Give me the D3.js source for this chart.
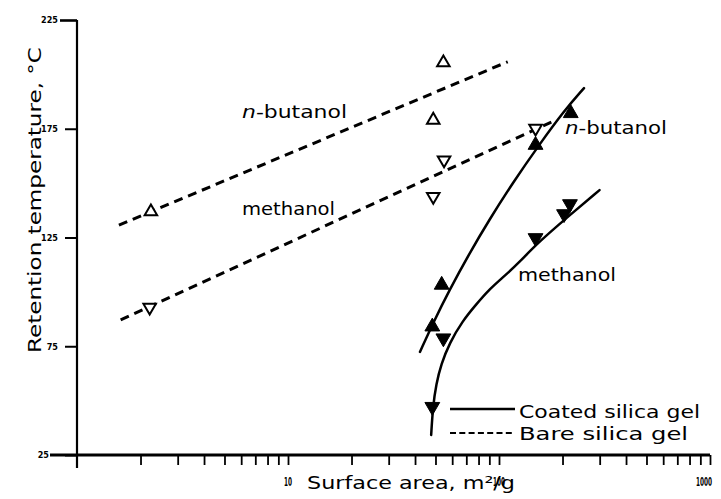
<!DOCTYPE html>
<html>
<head>
<meta charset="utf-8">
<script src="https://cdn.jsdelivr.net/npm/d3@7"></script>
<style>
  html, body { margin: 0; padding: 0; background: #fff; }
  svg { display: block; }
  text { font-family: "DejaVu Sans", sans-serif; fill: #000; }
</style>
</head>
<body>
<svg id="chart" width="721" height="499"></svg>
<script>
// Axis ticks
const tempTicks = [25, 75, 125, 175, 225];
const areaLabelTicks = [10, 100, 1000];

// Bare silica gel: measured points (surface area m²/g, retention temperature °C)
const bareButanolArea = [2.24, 48.8, 54.5];
const bareButanolTemp = [136.9, 179.0, 205.4];
const bareMethanolArea = [2.21, 48.8, 54.9, 149];
const bareMethanolTemp = [92.9, 143.8, 160.6, 175.2];

// Bare silica gel: straight trend lines (end points)
const bareButanolLineArea = [1.58, 110];
const bareButanolLineTemp = [130.7, 205.8];
const bareMethanolLineArea = [1.61, 178];
const bareMethanolLineTemp = [87.1, 178.2];

// Coated silica gel: measured points
const coatedButanolArea = [48.3, 53.5, 149, 218.8];
const coatedButanolTemp = [84.0, 103.2, 167.5, 182.1];
const coatedMethanolArea = [48.3, 54.5, 149, 203.3, 216.9];
const coatedMethanolTemp = [47.2, 78.7, 124.8, 135.8, 140.4];

// Coated silica gel: smoothed curves
const coatedButanolCurveArea = [42.2, 49.2, 57.9, 72.1, 89.7, 117.8, 154.7, 203.2, 252.9];
const coatedButanolCurveTemp = [72.4, 86.6, 100.4, 117.4, 133.0, 151.0, 167.5, 183.2, 193.7];
const coatedMethanolCurveArea = [47.7, 48.6, 50.4, 53.2, 58.3, 67.1, 78.2, 90.2, 106.2, 125.1, 150.6, 208.9, 299.5];
const coatedMethanolCurveTemp = [34.2, 47.1, 57.6, 66.8, 76.5, 86.6, 94.4, 101.3, 107.3, 113.7, 122.0, 134.0, 146.8];

const zip = (xs, ys) => xs.map((v, i) => [v, ys[i]]);

const svg = d3.select("#chart");
const x = d3.scaleLog().domain([1, 1000]).range([77, 710]);
const y = d3.scaleLinear().domain([25, 225]).range([455, 20]);

// ---- axes ----
svg.append("line")
  .attr("x1", x(1)).attr("x2", x(1))
  .attr("y1", y(225)).attr("y2", y(25) + 13)
  .attr("stroke", "#000").attr("stroke-width", 2.2);

svg.append("line")
  .attr("x1", 50).attr("x2", x(1000))
  .attr("y1", y(25)).attr("y2", y(25))
  .attr("stroke", "#000").attr("stroke-width", 3);

const yAxis = svg.append("g")
  .attr("transform", `translate(${x(1)},0)`)
  .call(d3.axisLeft(y).tickValues(tempTicks).tickSize(12).tickPadding(7));
yAxis.select(".domain").remove();
yAxis.selectAll("line").attr("stroke", "#000").attr("stroke-width", 2);
yAxis.selectAll("text")
  .attr("fill", "#000")
  .style("font-family", "'DejaVu Sans Condensed', 'DejaVu Sans', sans-serif")
  .style("font-size", "9px")
  .style("font-weight", "bold");
yAxis.selectAll(".tick").filter(d => d === 25).select("text").attr("x", -28);
yAxis.selectAll(".tick").filter(d => d === 225).select("line").attr("x2", -17).attr("stroke-width", 2.6);

const xAxis = svg.append("g")
  .attr("transform", `translate(0,${y(25)})`)
  .call(d3.axisBottom(x).tickValues(x.ticks().filter(d => d > 1)).tickSize(10).tickFormat(""));
xAxis.select(".domain").remove();
xAxis.selectAll("line").attr("stroke", "#000").attr("stroke-width", 1.8);

// narrow, tall decade labels below the axis
svg.append("g").selectAll("text")
  .data(areaLabelTicks)
  .join("text")
  .attr("transform", d => `translate(${d === 1000 ? x(d) - 6 : x(d)},486) scale(0.48,1)`)
  .attr("text-anchor", "middle")
  .style("font-size", "12px")
  .style("font-weight", "bold")
  .text(d => d);

// axis titles
svg.append("text")
  .attr("transform", "translate(41,200) rotate(-90)")
  .attr("text-anchor", "middle")
  .attr("textLength", 306)
  .attr("lengthAdjust", "spacingAndGlyphs")
  .style("font-size", "17px")
  .text("Retention temperature, °C");

svg.append("text")
  .attr("x", 307).attr("y", 489)
  .attr("textLength", 208)
  .attr("lengthAdjust", "spacingAndGlyphs")
  .style("font-size", "17px")
  .text("Surface area, m²/g");

// ---- bare silica gel (dashed) ----
const line = d3.line().x(d => x(d[0])).y(d => y(d[1]));
const curve = d3.line().x(d => x(d[0])).y(d => y(d[1])).curve(d3.curveBasis);

[zip(bareButanolLineArea, bareButanolLineTemp), zip(bareMethanolLineArea, bareMethanolLineTemp)]
  .forEach(pts => {
    svg.append("path").attr("d", line(pts))
      .attr("fill", "none").attr("stroke", "#000")
      .attr("stroke-width", 3).attr("stroke-dasharray", "9,6");
  });

// ---- coated silica gel (solid) ----
[zip(coatedButanolCurveArea, coatedButanolCurveTemp), zip(coatedMethanolCurveArea, coatedMethanolCurveTemp)]
  .forEach(pts => {
    svg.append("path").attr("d", curve(pts))
      .attr("fill", "none").attr("stroke", "#000")
      .attr("stroke-width", 2.5).attr("stroke-linecap", "round");
  });

// ---- markers ----
const openTri = d3.symbol().type(d3.symbolTriangle).size(68)();
const filledTri = d3.symbol().type(d3.symbolTriangle).size(95)();

function markers(pts, path, down, filled) {
  svg.append("g").selectAll("path")
    .data(pts)
    .join("path")
    .attr("d", path)
    .attr("transform", d => `translate(${x(d[0])},${y(d[1])})${down ? " rotate(180)" : ""}`)
    .attr("fill", filled ? "#000" : "#fff")
    .attr("stroke", "#000")
    .attr("stroke-width", filled ? 1 : 2)
    .attr("stroke-linejoin", "miter");
}
markers(zip(bareButanolArea, bareButanolTemp), openTri, false, false);
markers(zip(bareMethanolArea, bareMethanolTemp), openTri, true, false);
markers(zip(coatedButanolArea, coatedButanolTemp), filledTri, false, true);
markers(zip(coatedMethanolArea, coatedMethanolTemp), filledTri, true, true);

// ---- annotations ----
function note(parts, x0, baseline, width) {
  const t = svg.append("text")
    .attr("x", x0).attr("y", baseline)
    .attr("textLength", width)
    .attr("lengthAdjust", "spacingAndGlyphs")
    .style("font-size", "17px");
  parts.forEach(([s, italic]) => {
    t.append("tspan").style("font-style", italic ? "italic" : "normal").text(s);
  });
}
note([["n", true], ["-butanol", false]], 242, 118, 105);
note([["methanol", false]], 242, 215, 93);
note([["n", true], ["-butanol", false]], 565, 134, 102);
note([["methanol", false]], 518, 281, 98);

// ---- legend ----
svg.append("line").attr("x1", 450).attr("x2", 515).attr("y1", 409).attr("y2", 409)
  .attr("stroke", "#000").attr("stroke-width", 2.5);
svg.append("line").attr("x1", 450).attr("x2", 515).attr("y1", 433).attr("y2", 433)
  .attr("stroke", "#000").attr("stroke-width", 2.2).attr("stroke-dasharray", "6,3.3");
note([["Coated  silica  gel", false]], 519, 418, 181);
note([["Bare  silica  gel", false]], 519, 440, 169);
</script>
</body>
</html>
